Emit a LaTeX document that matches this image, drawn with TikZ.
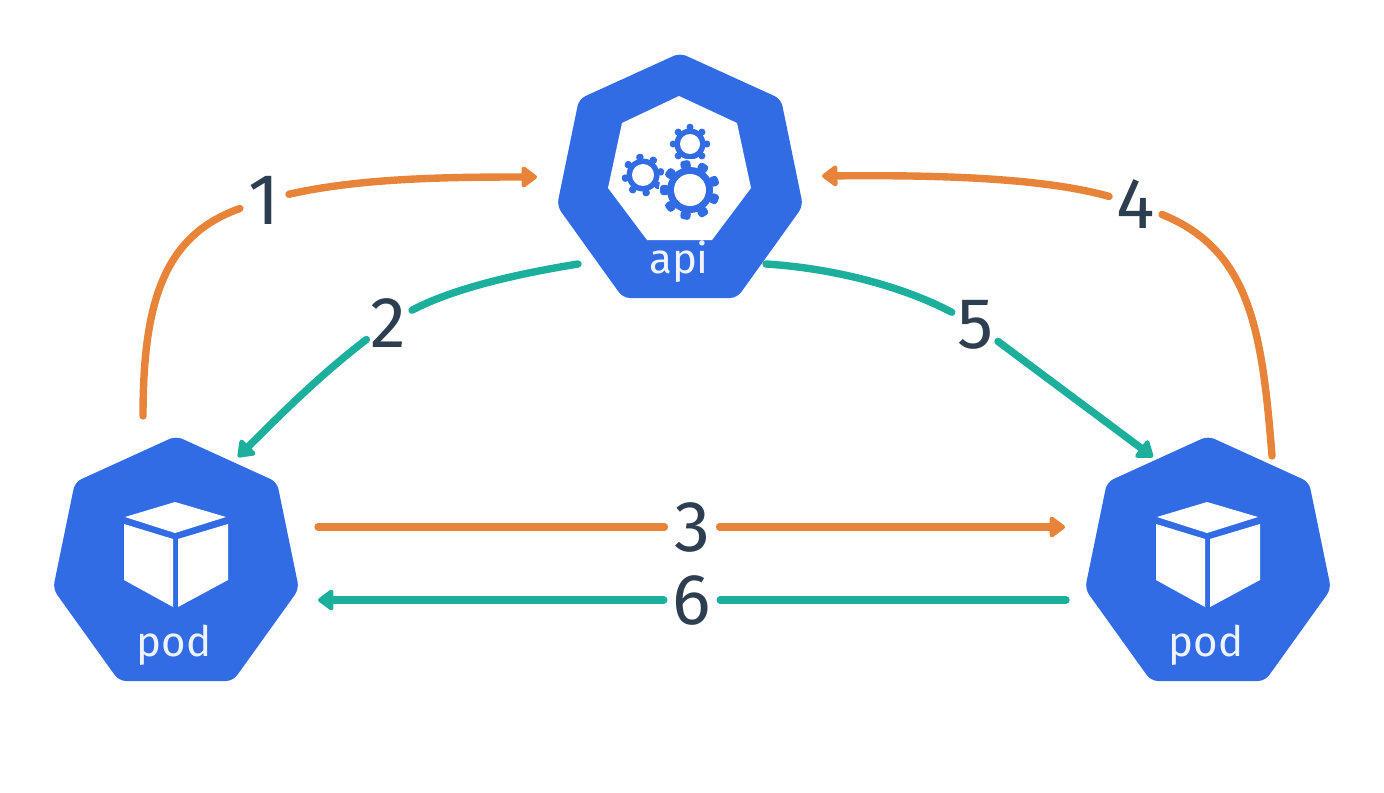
\documentclass[tikz,border=0pt]{standalone}
\usepackage{fontspec}
\setmainfont{Fira Sans}
\usetikzlibrary{arrows.meta}

\definecolor{kubeblue}{HTML}{326CE5}
\definecolor{stepred}{HTML}{E8833A}
\definecolor{stepgreen}{HTML}{1BAF9C}
\definecolor{stepnum}{HTML}{2C3E50}

\tikzset{
  redline/.style={draw=stepred,line width=3.7pt,line cap=round},
  greenline/.style={draw=stepgreen,line width=3.7pt,line cap=round},
  tipped/.style={-{Triangle[length=8.5pt,width=12pt,round]}},
  stepnumber/.style={circle,inner sep=-1.25pt,text=stepnum,font=\fontsize{36}{36}\selectfont},
  kubelabel/.style={text=white!92!kubeblue,inner sep=0pt,font=\fontsize{21}{21}\selectfont}
}

\newcommand{\heptagonshape}{
  \fill[kubeblue,rounded corners=3.5pt] (0,-124)--(101,-78)--(123,29)--(57,121)--(-57,121)--(-123,29)--(-101,-78)--cycle;
}
\newcommand{\cubeshape}{
  \fill[white] (-1,-58)--(50,-43)--(-1,-27)--(-51,-43)--cycle;
  \fill[white] (-52,-36)--(-3,-21)--(-3,47)--(-52,20)--cycle;
  \fill[white] (2,-21)--(52,-36)--(52,20)--(2,47)--cycle;
}
% x, y, body radius, hole radius, teeth, start angle
\newcommand{\gearshape}[6]{
  \begin{scope}[shift={(#1,#2)}]
    \fill[kubeblue] (0,0) circle[radius=#3];
    \pgfmathsetmacro{\gearstep}{360/#5}
    \foreach \k in {1,...,#5} {
      \fill[kubeblue,rotate={#6+\k*\gearstep},rounded corners=1.5pt] (#3-2,-0.22*#3) rectangle (#3*1.3,0.22*#3);
    }
    \fill[white] (0,0) circle[radius=#4];
  \end{scope}
}

\begin{document}
\begin{tikzpicture}[x=0.5pt,y=-0.5pt]
  \useasboundingbox (0,0) rectangle (1384,792);

  % api
  \begin{scope}[shift={(680,177)}]
    \heptagonshape
    \fill[white] (-1,-81)--(57,-54)--(71,11)--(32,63)--(-33,63)--(-72,11)--(-58,-54)--cycle;
    \node[kubelabel] (apilabel) at (-1,85) {api};
  \end{scope}
  \gearshape{643}{175}{16.5}{11}{8}{10}
  \gearshape{690}{144}{15.5}{10}{8}{0}
  \fill[white] (690,190) circle[radius=31];
  \gearshape{690}{190}{23}{16}{9}{20}

  % pods
  \begin{scope}[shift={(176,560)}]
    \heptagonshape
    \cubeshape
    \node[kubelabel] (podleft) at (-2,85) {pod};
  \end{scope}
  \begin{scope}[shift={(1208,560)}]
    \heptagonshape
    \cubeshape
    \node[kubelabel] (podright) at (-2,85) {pod};
  \end{scope}

  % numbers
  \node[stepnumber] (num1) at (264,200) {1};
  \node[stepnumber] (num2) at (388,323) {2};
  \node[stepnumber] (num3) at (692,527) {3};
  \node[stepnumber] (num4) at (1136,204) {4};
  \node[stepnumber] (num5) at (976,325) {5};
  \node[stepnumber] (num6) at (692,600) {6};

  % free ends
  \coordinate (podleftup) at (143,416);
  \coordinate (apileftin) at (537,177);
  \coordinate (apileftout) at (578,264);
  \coordinate (podleftin) at (238,457);
  \coordinate (podleftout) at (318,527);
  \coordinate (podrightin) at (1065,527);
  \coordinate (podrightup) at (1272,456);
  \coordinate (apirightin) at (822,176);
  \coordinate (apirightout) at (766,264);
  \coordinate (podrighttop) at (1153,457);
  \coordinate (podrightout) at (1066,600);
  \coordinate (podleftback) at (318,600);

  \draw[redline] (podleftup) .. controls (143,300) and (165,235) .. (num1);
  \draw[redline,tipped] (num1) .. controls (360,178) and (450,177) .. (apileftin);

  \draw[greenline] (apileftout) .. controls (510,275) and (450,290) .. (num2);
  \draw[greenline,tipped] (num2) .. controls (320,375) and (280,415) .. (podleftin);

  \draw[redline] (podleftout) -- (num3);
  \draw[redline,tipped] (num3) -- (podrightin);

  \draw[redline] (podrightup) .. controls (1262,330) and (1250,250) .. (num4);
  \draw[redline,tipped] (num4) .. controls (1040,177) and (930,175) .. (apirightin);

  \draw[greenline] (apirightout) .. controls (830,268) and (900,285) .. (num5);
  \draw[greenline,tipped] (num5) -- (podrighttop);

  \draw[greenline] (podrightout) -- (num6);
  \draw[greenline,tipped] (num6) -- (podleftback);
\end{tikzpicture}
\end{document}
